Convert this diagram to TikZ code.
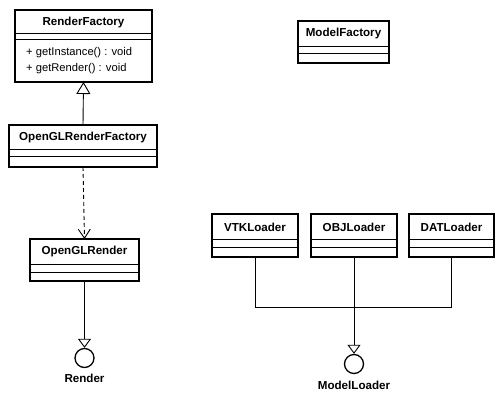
\documentclass[tikz,border=0pt]{standalone}
\usepackage{fontspec}
\setmainfont{Liberation Sans}
\usetikzlibrary{arrows.meta,calc}
\begin{document}
\begin{tikzpicture}[x=1pt,y=-1pt,
  classbox/.style={draw, line width=1.6pt, inner sep=0pt, outer sep=0pt, anchor=north west},
  ctitle/.style={font=\fontsize{11.6}{13}\selectfont\bfseries, inner sep=0pt},
  method/.style={font=\fontsize{11.2}{13}\selectfont, inner sep=0pt, anchor=west},
  divline/.style={line width=0.9pt},
  conn/.style={line width=0.9pt},
  iface/.style={draw, circle, line width=1.3pt, minimum size=19pt, inner sep=0pt},
  ilabel/.style={font=\fontsize{11.6}{13}\selectfont\bfseries, inner sep=0pt},
  general/.style={conn, -{Triangle[open, length=12pt, width=14pt, line width=0.9pt]}},
  realize/.style={conn, -{Triangle[open, length=9pt, width=13pt, line width=0.9pt]}},
  depend/.style={conn, dash pattern=on 4pt off 3pt, -{Straight Barb[length=9pt, width=12pt, line width=0.9pt]}}
]
\useasboundingbox (0,0) rectangle (504,419);
\fill[white] (0,0) rectangle (504,419);

% RenderFactory
\node[classbox, minimum width=137pt, minimum height=72pt] (rf) at (15,10) {};
\node[ctitle] (rft) at ($(rf.north)+(0,13)$) {RenderFactory};
\draw[divline] ($(rf.north west)+(0,23)$) -- ($(rf.north east)+(0,23)$);
\draw[divline] ($(rf.north west)+(0,29)$) -- ($(rf.north east)+(0,29)$);
\node[method] (rfm1) at ($(rf.north west)+(11,43)$) {+ getInstance() : void};
\node[method] (rfm2) at ($(rf.north west)+(11,59)$) {+ getRender() : void};

% OpenGLRenderFactory
\node[classbox, minimum width=148pt, minimum height=42pt] (oglrf) at (9,125) {};
\node[ctitle] (oglrft) at ($(oglrf.north)+(0,13)$) {OpenGLRenderFactory};
\draw[divline] ($(oglrf.north west)+(0,24)$) -- ($(oglrf.north east)+(0,24)$);
\draw[divline] ($(oglrf.north west)+(0,31)$) -- ($(oglrf.north east)+(0,31)$);

% OpenGLRender
\node[classbox, minimum width=109pt, minimum height=42pt] (oglr) at (30,239) {};
\node[ctitle] (oglrt) at ($(oglr.north)+(0,13)$) {OpenGLRender};
\draw[divline] ($(oglr.north west)+(0,25)$) -- ($(oglr.north east)+(0,25)$);
\draw[divline] ($(oglr.north west)+(0,33)$) -- ($(oglr.north east)+(0,33)$);

% ModelFactory
\node[classbox, minimum width=91pt, minimum height=42pt] (mf) at (298,21) {};
\node[ctitle] (mft) at ($(mf.north)+(0,13)$) {ModelFactory};
\draw[divline] ($(mf.north west)+(0,25)$) -- ($(mf.north east)+(0,25)$);
\draw[divline] ($(mf.north west)+(0,32)$) -- ($(mf.north east)+(0,32)$);

% Loaders
\node[classbox, minimum width=86pt, minimum height=43pt] (vtk) at (212,214) {};
\node[ctitle] (vtkt) at ($(vtk.north)+(0,13)$) {VTKLoader};
\draw[divline] ($(vtk.north west)+(0,25)$) -- ($(vtk.north east)+(0,25)$);
\draw[divline] ($(vtk.north west)+(0,33)$) -- ($(vtk.north east)+(0,33)$);

\node[classbox, minimum width=86pt, minimum height=43pt] (obj) at (311,214) {};
\node[ctitle] (objt) at ($(obj.north)+(0,13)$) {OBJLoader};
\draw[divline] ($(obj.north west)+(0,25)$) -- ($(obj.north east)+(0,25)$);
\draw[divline] ($(obj.north west)+(0,33)$) -- ($(obj.north east)+(0,33)$);

\node[classbox, minimum width=85pt, minimum height=43pt] (dat) at (409,214) {};
\node[ctitle] (datt) at ($(dat.north)+(0,13)$) {DATLoader};
\draw[divline] ($(dat.north west)+(0,25)$) -- ($(dat.north east)+(0,25)$);
\draw[divline] ($(dat.north west)+(0,33)$) -- ($(dat.north east)+(0,33)$);

% Interfaces
\coordinate (rlev) at (0,358);
\node[iface] (render) at (oglr.south |- rlev) {};
\node[ilabel] (renderl) at ($(render.center)+(0,20)$) {Render};

\coordinate (mlev) at (0,364);
\node[iface] (ml) at (obj.south |- mlev) {};
\node[ilabel] (mll) at ($(ml.center)+(0,21)$) {ModelLoader};

% Connectors
\draw[general] (oglrf.north) -- (rf.south);
\draw[depend] (oglrf.south) -- (oglr.north);
\draw[realize] (oglr.south) -- (render.north);

\coordinate (jn) at ($(obj.south)+(0,50)$);
\draw[conn] (vtk.south) |- (jn);
\draw[conn] (dat.south) |- (jn);
\draw[realize] (obj.south) -- (ml.north);
\end{tikzpicture}
\end{document}
